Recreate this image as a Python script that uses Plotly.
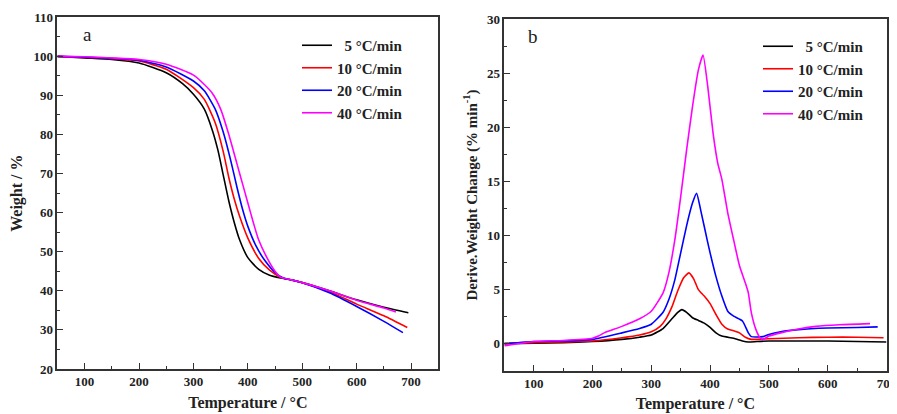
import plotly.graph_objects as go

FONT = "Liberation Serif"
rates = ["5 °C/min", "10 °C/min", "20 °C/min", "40 °C/min"]
names = ["\u00a0\u00a05 °C/min", "10 °C/min", "20 °C/min", "40 °C/min"]
colors = ["#000000", "#ff0000", "#0000ff", "#ff00ff"]

# ---- Panel a: TGA weight (%) ----
tga_t_5 = [50, 100, 150, 200, 250, 280, 300, 320, 335, 345, 355, 365, 375, 385, 400, 420, 440, 460, 480, 500, 550, 600, 650, 695]
tga_w_5 = [100, 99.6, 99.2, 98.3, 95.8, 93.0, 90.3, 86.5, 81, 76, 69.5, 63, 57.5, 53, 48.5, 45.5, 44, 43.3, 42.8, 42.1, 40.0, 37.7, 35.8, 34.4]
tga_t_10 = [50, 100, 150, 200, 250, 300, 320, 340, 355, 365, 375, 385, 400, 420, 440, 460, 480, 500, 550, 600, 650, 693]
tga_w_10 = [100, 99.7, 99.4, 98.8, 96.7, 92.0, 89.0, 83.0, 75.5, 69, 63.5, 59, 53.5, 48.3, 45.3, 43.5, 42.8, 42.1, 39.8, 36.6, 33.6, 30.6]
tga_t_20 = [50, 100, 150, 200, 250, 300, 320, 340, 355, 370, 380, 390, 400, 415, 430, 450, 465, 480, 500, 550, 600, 650, 685]
tga_w_20 = [100, 99.8, 99.5, 99.0, 97.3, 93.7, 91.2, 86.5, 80.5, 72.5, 66.5, 61, 56.5, 51.5, 48, 44.7, 43.3, 42.8, 42.1, 39.5, 36, 32.2, 29.3]
tga_t_40 = [50, 100, 150, 200, 250, 300, 320, 335, 350, 365, 380, 390, 400, 410, 420, 435, 450, 460, 480, 500, 550, 600, 650, 672]
tga_w_40 = [100, 99.9, 99.6, 99.2, 98.0, 95.2, 92.8, 90.5, 86.5, 80, 72.5, 67.5, 62.5, 57.5, 53, 48.5, 45, 43.5, 42.8, 42.1, 40.0, 37.6, 35.6, 34.6]

# ---- Panel b: DTG (% min^-1) ----
dtg_t_5 = [50, 100, 150, 200, 250, 280, 300, 320, 335, 345, 352, 360, 370, 380, 390, 400, 410, 420, 440, 455, 465, 480, 500, 550, 600, 650, 700]
dtg_v_5 = [0.0, 0.05, 0.1, 0.2, 0.4, 0.6, 0.8, 1.4, 2.3, 2.9, 3.15, 2.9, 2.4, 2.15, 1.9, 1.5, 1.0, 0.7, 0.5, 0.25, 0.15, 0.2, 0.25, 0.25, 0.25, 0.2, 0.15]
dtg_t_10 = [50, 100, 150, 200, 250, 280, 300, 315, 325, 335, 345, 355, 364, 372, 380, 390, 400, 410, 420, 430, 440, 450, 460, 470, 480, 500, 550, 600, 650, 695]
dtg_v_10 = [0.0, 0.1, 0.15, 0.25, 0.55, 0.8, 1.1, 1.6, 2.3, 3.4, 4.9, 6.1, 6.55, 6.0, 5.0, 4.4, 3.7, 2.7, 1.8, 1.35, 1.2, 1.0, 0.6, 0.4, 0.4, 0.45, 0.55, 0.6, 0.6, 0.55]
dtg_t_20 = [50, 100, 150, 200, 250, 280, 300, 320, 330, 340, 350, 360, 370, 377, 385, 395, 400, 410, 420, 430, 440, 455, 465, 470, 490, 500, 520, 550, 600, 650, 685]
dtg_v_20 = [0.0, 0.2, 0.25, 0.4, 1.0, 1.4, 1.8, 2.9, 4.1, 5.9, 8.4, 10.9, 13.0, 13.9, 12.1, 9.6, 8.4, 6.2, 4.4, 3.0, 2.55, 2.1, 1.0, 0.65, 0.65, 0.85, 1.1, 1.3, 1.45, 1.5, 1.55]
dtg_t_40 = [50, 100, 150, 200, 210, 220, 250, 280, 300, 320, 330, 340, 350, 360, 370, 380, 388, 396, 405, 413, 420, 430, 440, 450, 460, 465, 470, 478, 485, 490, 500, 520, 550, 580, 620, 672]
dtg_v_40 = [-0.2, 0.2, 0.3, 0.5, 0.7, 1.0, 1.6, 2.3, 3.0, 4.7, 6.6, 9.6, 13.6, 17.9, 21.9, 25.3, 26.7, 23.8, 19.5, 16.7, 15.2, 12.1, 9.6, 7.2, 5.6, 4.7, 2.9, 1.3, 0.55, 0.4, 0.7, 1.0, 1.35, 1.6, 1.75, 1.85]

tga = [(tga_t_5, tga_w_5), (tga_t_10, tga_w_10), (tga_t_20, tga_w_20), (tga_t_40, tga_w_40)]
dtg = [(dtg_t_5, dtg_v_5), (dtg_t_10, dtg_v_10), (dtg_t_20, dtg_v_20), (dtg_t_40, dtg_v_40)]

fig = go.Figure()
for i, (t, w) in enumerate(tga):
    fig.add_trace(go.Scatter(x=t, y=w, mode="lines", name=names[i], line=dict(color=colors[i], width=1.6, shape="spline", smoothing=0.6),
                             xaxis="x", yaxis="y", legend="legend"))
for i, (t, v) in enumerate(dtg):
    fig.add_trace(go.Scatter(x=t, y=v, mode="lines", name=names[i], line=dict(color=colors[i], width=1.6, shape="spline", smoothing=0.5),
                             xaxis="x2", yaxis="y2", legend="legend2"))

# the page body adds an 8px offset; lay out in window pixels
OFF = 8
W, H = 897 - OFF, 414 - OFF
def px(xp):
    return (xp - OFF) / W
def py(yp):
    return 1 - (yp - OFF) / H

tickfont = dict(family=FONT, size=13, color="#222", weight="bold")
titlefont = dict(family=FONT, size=16, color="#222", weight="bold")
axcommon = dict(showline=True, linecolor="#333", linewidth=1.5, mirror=True, showgrid=False, zeroline=False,
                ticks="inside", ticklen=6, tickwidth=1.3, tickcolor="#333", tickfont=tickfont, automargin=False)

fig.update_layout(
    width=W, height=H, margin=dict(l=0, r=0, t=0, b=0, autoexpand=False),
    paper_bgcolor="white", plot_bgcolor="white",
    font=dict(family=FONT, color="#222"),
    xaxis=dict(domain=[px(57.4), px(438.3)], range=[50, 750], dtick=100, tick0=0, anchor="y",
               minor=dict(ticks="inside", ticklen=3, dtick=50, tickcolor="#333"),
               title=dict(text="Temperature / °C", font=titlefont, standoff=8), **axcommon),
    yaxis=dict(domain=[py(369), py(17.3)], range=[20, 110], dtick=10, anchor="x",
               minor=dict(ticks="inside", ticklen=3, dtick=5, tickcolor="#333"),
               title=dict(text="Weight / %", font=titlefont, standoff=8), **axcommon),
    xaxis2=dict(domain=[px(504.3), px(886.5)], range=[50, 700], dtick=100, tick0=0, anchor="y2",
                minor=dict(ticks="inside", ticklen=3, dtick=50, tickcolor="#333"),
                title=dict(text="Temperature / °C", font=titlefont, standoff=8), **axcommon),
    yaxis2=dict(domain=[py(370.7), py(19.3)], range=[-2.5, 30], dtick=5, tick0=0, anchor="x2",
                minor=dict(ticks="inside", ticklen=3, dtick=2.5, tickcolor="#333"),
                title=dict(text="Derive.Weight Change (% min<sup>-1</sup>)", font=dict(family=FONT, size=15, color="#222", weight="bold"), standoff=6), **axcommon),
    legend=dict(x=px(297), y=py(29), xanchor="left", yanchor="top", bgcolor="rgba(0,0,0,0)",
                font=dict(family=FONT, size=15, color="#222", weight="bold"), tracegroupgap=0, itemwidth=30),
    legend2=dict(x=px(758), y=py(30), xanchor="left", yanchor="top", bgcolor="rgba(0,0,0,0)",
                 font=dict(family=FONT, size=15, color="#222", weight="bold"), tracegroupgap=0, itemwidth=30),
    showlegend=True,
)

fig.add_annotation(x=px(87), y=py(35), xref="paper", yref="paper", text="a", showarrow=False,
                   xanchor="center", yanchor="middle", font=dict(family=FONT, size=19, color="#222"))
fig.add_annotation(x=px(533), y=py(36), xref="paper", yref="paper", text="b", showarrow=False,
                   xanchor="center", yanchor="middle", font=dict(family=FONT, size=19, color="#222"))

fig.write_html("out.html")
